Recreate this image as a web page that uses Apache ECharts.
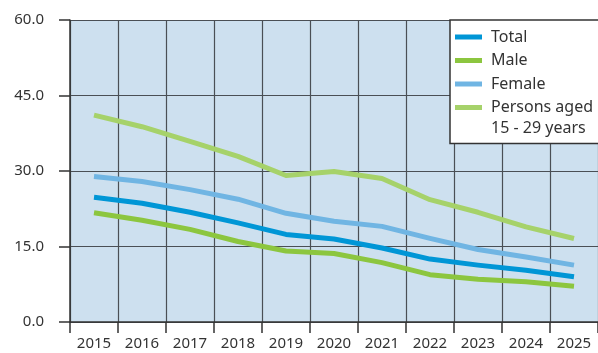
<!DOCTYPE html>
<html>
<head>
<meta charset="utf-8">
<script src="https://cdn.jsdelivr.net/npm/echarts@6/dist/echarts.min.js"></script>
<style>
  html, body { margin: 0; padding: 0; background: #ffffff; }
  #chart { width: 598px; height: 353px; }
</style>
</head>
<body>
<div id="chart"></div>
<script>
// Years on the category axis
const years = ['2015', '2016', '2017', '2018', '2019', '2020', '2021', '2022', '2023', '2024', '2025'];

// Rates per group, one value per year
const total   = [24.8, 23.6, 21.8, 19.7, 17.4, 16.5, 14.7, 12.5, 11.3, 10.3, 9.0];
const male    = [21.7, 20.2, 18.4, 16.0, 14.1, 13.6, 11.8, 9.4, 8.5, 8.0, 7.1];
const female  = [28.9, 27.9, 26.3, 24.4, 21.6, 20.0, 19.0, 16.6, 14.4, 12.9, 11.3];
const young   = [41.1, 38.8, 35.9, 32.9, 29.1, 29.9, 28.5, 24.3, 21.8, 18.9, 16.6];

// Series names shown in the legend
const seriesNames = ['Total', 'Male', 'Female', 'Persons aged'];
const youngSecondLine = '15 - 29 years';

const colors = ['#0096d6', '#8cc63f', '#70b5e3', '#a6d26a'];
const font = 'Noto Sans';

const chart = echarts.init(document.getElementById('chart'), null, { renderer: 'canvas' });

function line(name, data, color) {
  return {
    name: name,
    type: 'line',
    data: data,
    symbol: 'none',
    smooth: false,
    lineStyle: { width: 5, color: color, join: 'round' },
    itemStyle: { color: color },
    emphasis: { disabled: true },
    z: 3
  };
}

chart.setOption({
  animation: false,
  textStyle: { fontFamily: font },
  grid: {
    left: 70, top: 20, right: 0, bottom: 31,
    show: true, backgroundColor: '#cde0ef', borderWidth: 0
  },
  xAxis: {
    type: 'category',
    data: years,
    boundaryGap: true,
    axisLine: { lineStyle: { color: '#333333', width: 1.5 } },
    axisTick: { show: true, length: 11, lineStyle: { color: '#333333', width: 1.5 } },
    axisLabel: { color: '#333333', fontSize: 15, margin: 14, fontFamily: font },
    splitLine: { show: true, lineStyle: { color: '#4a4f55', width: 1.2 } }
  },
  yAxis: {
    type: 'value',
    min: 0, max: 60, interval: 15,
    axisLine: { show: true, lineStyle: { color: '#333333', width: 1.5 } },
    axisTick: { show: true, length: 11, lineStyle: { color: '#333333', width: 1.5 } },
    axisLabel: {
      color: '#333333', fontSize: 15, margin: 26, fontFamily: font,
      formatter: v => v.toFixed(1)
    },
    splitLine: { show: true, lineStyle: { color: '#4a4f55', width: 1.2 } }
  },
  legend: {
    orient: 'vertical',
    left: 450, top: 20,
    data: seriesNames,
    itemWidth: 27, itemHeight: 5,
    itemGap: 5.5,
    padding: [8, 12, 27, 5],
    backgroundColor: '#ffffff',
    borderColor: '#333333', borderWidth: 1.5,
    borderRadius: 0,
    icon: 'rect',
    selectedMode: false,
    textStyle: { color: '#333333', fontSize: 16, lineHeight: 18, fontFamily: font, padding: [0, 0, 0, 4] }
  },
  graphic: [{
    type: 'text',
    left: 491, top: 120,
    z: 100,
    style: { text: youngSecondLine, fill: '#333333', fontSize: 16, fontFamily: font }
  }],
  series: [
    line(seriesNames[0], total, colors[0]),
    line(seriesNames[1], male, colors[1]),
    line(seriesNames[2], female, colors[2]),
    line(seriesNames[3], young, colors[3])
  ]
});
</script>
</body>
</html>
